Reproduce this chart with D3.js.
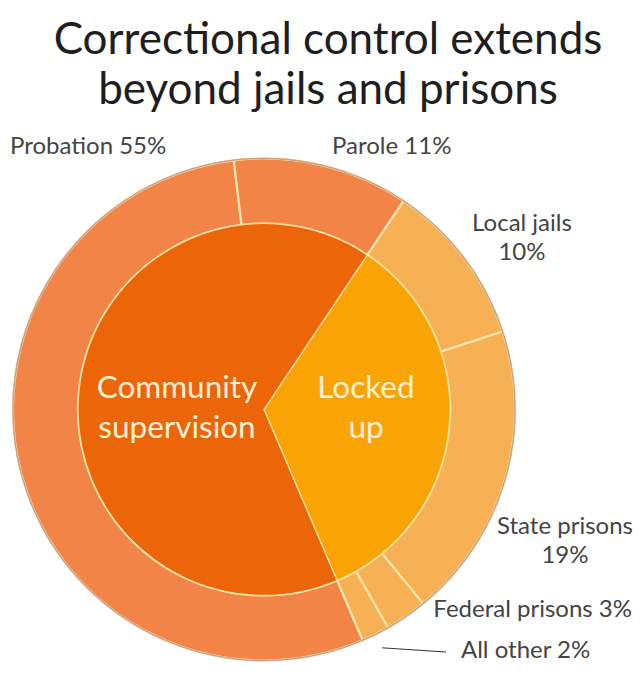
<!DOCTYPE html>
<html>
  <head>
    <meta charset="utf-8" />
    <title>Correctional control</title>
    <script src="https://d3js.org/d3.v7.min.js"></script>
    <style>
      html, body {
        margin: 0;
        padding: 0;
        background: #fff;
      }
      svg {
        display: block;
        font-family: Lato, "Open Sans", sans-serif;
      }
      .title {
        fill: #1e1e1e;
        font-size: 44px;
      }
      .seg-label {
        fill: #444;
        font-size: 24px;
      }
      .group-label {
        fill: #fdf0d3;
        font-size: 31.5px;
      }
    </style>
  </head>
  <body>
    <svg width="640" height="680"></svg>

    <script>
      // data (shares of all people under correctional control, %)
      const groups = ["Locked up", "Community supervision"];
      const groupLines = [["Locked", "up"], ["Community", "supervision"]];

      const segments = ["Local jails", "State prisons", "Federal prisons", "All other", "Probation", "Parole"];
      const segmentGroup = [0, 0, 0, 0, 1, 1];
      const segmentValues = [10.6, 19.1, 2.7, 1.8, 54.5, 11.3];
      const segmentLines = [
        ["Local jails", "10%"],
        ["State prisons", "19%"],
        ["Federal prisons 3%"],
        ["All other 2%"],
        ["Probation 55%"],
        ["Parole 11%"]
      ];

      const titleLines = ["Correctional control extends", "beyond jails and prisons"];

      // layout
      const svg = d3.select("svg");
      const cx = 264, cy = 409.5;
      const rInner = 186, rOuter = 251;
      const start = 33.75 * Math.PI / 180;

      const groupFill = ["#faa305", "#ec6509"];
      const segFill = ["#f7b053", "#f28448"];

      svg.append("g")
        .selectAll("text")
        .data(titleLines)
        .join("text")
        .attr("class", "title")
        .attr("x", 328)
        .attr("y", (d, i) => 54 + i * 50)
        .attr("text-anchor", "middle")
        .text(d => d);

      const g = svg.append("g").attr("transform", `translate(${cx},${cy})`);

      const groupValues = groups.map((_, gi) =>
        d3.sum(segmentValues.filter((v, i) => segmentGroup[i] === gi)));

      const pie = d3.pie().sort(null).startAngle(start).endAngle(start + 2 * Math.PI);

      const innerArcs = pie(groupValues);
      const outerArcs = pie(segmentValues);

      const innerArc = d3.arc().innerRadius(0).outerRadius(rInner);
      const outerArc = d3.arc().innerRadius(rInner).outerRadius(rOuter);

      g.append("g")
        .selectAll("path")
        .data(outerArcs)
        .join("path")
        .attr("d", outerArc)
        .attr("fill", (d, i) => segFill[segmentGroup[i]])
        .attr("stroke", "#fbe6ae")
        .attr("stroke-width", 2.2);

      g.append("g")
        .selectAll("path")
        .data(innerArcs)
        .join("path")
        .attr("d", innerArc)
        .attr("fill", (d, i) => groupFill[i])
        .attr("stroke", "#fbe3a0")
        .attr("stroke-width", 1.3);

      // thin edge round the outer ring
      g.append("circle")
        .attr("r", rOuter)
        .attr("fill", "none")
        .attr("stroke", "#c7a089")
        .attr("stroke-width", 1.5);

      // group labels in the inner pie
      const groupPos = [{ x: 366, y: 398 }, { x: 177, y: 398 }];
      svg.append("g")
        .selectAll("text")
        .data(groups)
        .join("text")
        .attr("class", "group-label")
        .attr("text-anchor", "middle")
        .attr("x", (d, i) => groupPos[i].x)
        .attr("y", (d, i) => groupPos[i].y)
        .selectAll("tspan")
        .data((d, i) => groupLines[i])
        .join("tspan")
        .attr("x", function () { return this.parentNode.getAttribute("x"); })
        .attr("dy", (d, j) => j === 0 ? 0 : 40)
        .text(d => d);

      // segment labels round the ring
      const labelPos = [
        { x: 522, y: 231, anchor: "middle" },
        { x: 565, y: 534, anchor: "middle" },
        { x: 632, y: 617, anchor: "end" },
        { x: 461, y: 658, anchor: "start" },
        { x: 10, y: 154, anchor: "start" },
        { x: 332, y: 154, anchor: "start" }
      ];

      svg.append("g")
        .selectAll("text")
        .data(segments)
        .join("text")
        .attr("class", "seg-label")
        .attr("text-anchor", (d, i) => labelPos[i].anchor)
        .attr("x", (d, i) => labelPos[i].x)
        .attr("y", (d, i) => labelPos[i].y)
        .selectAll("tspan")
        .data((d, i) => segmentLines[i])
        .join("tspan")
        .attr("x", function () { return this.parentNode.getAttribute("x"); })
        .attr("dy", (d, j) => j === 0 ? 0 : 28.5)
        .text(d => d);

      // leader line for "All other"
      const other = outerArcs[3];
      const mid = (other.startAngle + other.endAngle) / 2;
      const r0 = 266;
      svg.append("line")
        .attr("x1", cx + r0 * Math.sin(mid))
        .attr("y1", cy - r0 * Math.cos(mid))
        .attr("x2", labelPos[3].x - 15)
        .attr("y2", labelPos[3].y - 6)
        .attr("stroke", "#333")
        .attr("stroke-width", 1);
    </script>
  </body>
</html>
